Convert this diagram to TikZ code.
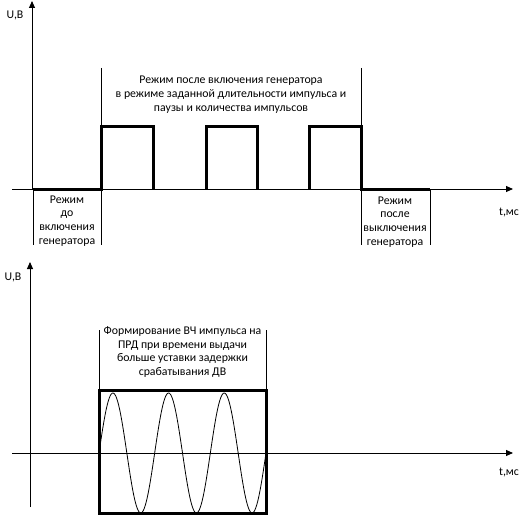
\documentclass[tikz,border=0pt]{standalone}
\usepackage{fontspec}
\setmainfont{Carlito}
\usetikzlibrary{arrows.meta}

\begin{document}
\begin{tikzpicture}[x=1pt,y=-1pt,
  eje/.style={line width=0.9pt,-{Triangle[length=7pt,width=6pt]}},
  guia/.style={line width=0.8pt},
  pulso/.style={line width=3pt},
  texto/.style={font=\fontsize{11.8}{13.7}\selectfont,align=center,inner sep=0pt}]

\useasboundingbox (0,0) rectangle (527,516);

% Grafico superior
\coordinate (O1) at (32,189);
\coordinate (Y1) at (32,1);
\coordinate (X1a) at (12,189);
\coordinate (X1) at (513,189);
\draw[eje] (O1) -- (Y1);
\draw[eje] (X1a) -- (X1);
\node[texto] (U1) at (15,15) {U,В};
\node[texto] (t1) at (509,213) {t,мс};

% Pulsos
\draw[pulso] (33,189) -- (101,189) -- (101,127) -- (153,127) -- (153,189);
\draw[pulso] (206,189) -- (206,127) -- (257,127) -- (257,189);
\draw[pulso] (309,189) -- (309,127) -- (361,127) -- (361,189) -- (430,189);

% Lineas de referencia
\draw[guia] (33,189) -- (33,245);
\draw[guia] (101,68) -- (101,245);
\draw[guia] (361,68) -- (361,245);
\draw[guia] (430,189) -- (430,245);

\node[texto] (modo) at (231,94.5) {Режим после включения генератора\\в режиме заданной длительности импульса и\\паузы и количества импульсов};
\node[texto] (antes) at (67,221) {Режим\\до\\включения\\генератора};
\node[texto] (despues) at (395,222) {Режим\\после\\выключения\\генератора};

% Grafico inferior
\coordinate (O2) at (30,507);
\coordinate (Y2) at (30,262);
\coordinate (X2a) at (12,453);
\coordinate (X2) at (513,453);
\draw[eje] (O2) -- (Y2);
\draw[eje] (X2a) -- (X2);
\node[texto] (U2) at (13,277) {U,В};
\node[texto] (t2) at (509,473) {t,мс};

% Impulso VCh
\draw[line width=0.8pt,domain=0:1080,samples=181,smooth]
  plot ({99+0.15463*\x},{453-60*sin(\x)});
\draw[pulso] (99,390) rectangle (266,513);

\draw[guia] (99,330) -- (99,390);
\draw[guia] (266,330) -- (266,390);
\node[texto] (vch) at (182.5,352) {Формирование ВЧ импульса на\\ПРД при времени выдачи\\больше уставки задержки\\срабатывания ДВ};

\end{tikzpicture}
\end{document}
